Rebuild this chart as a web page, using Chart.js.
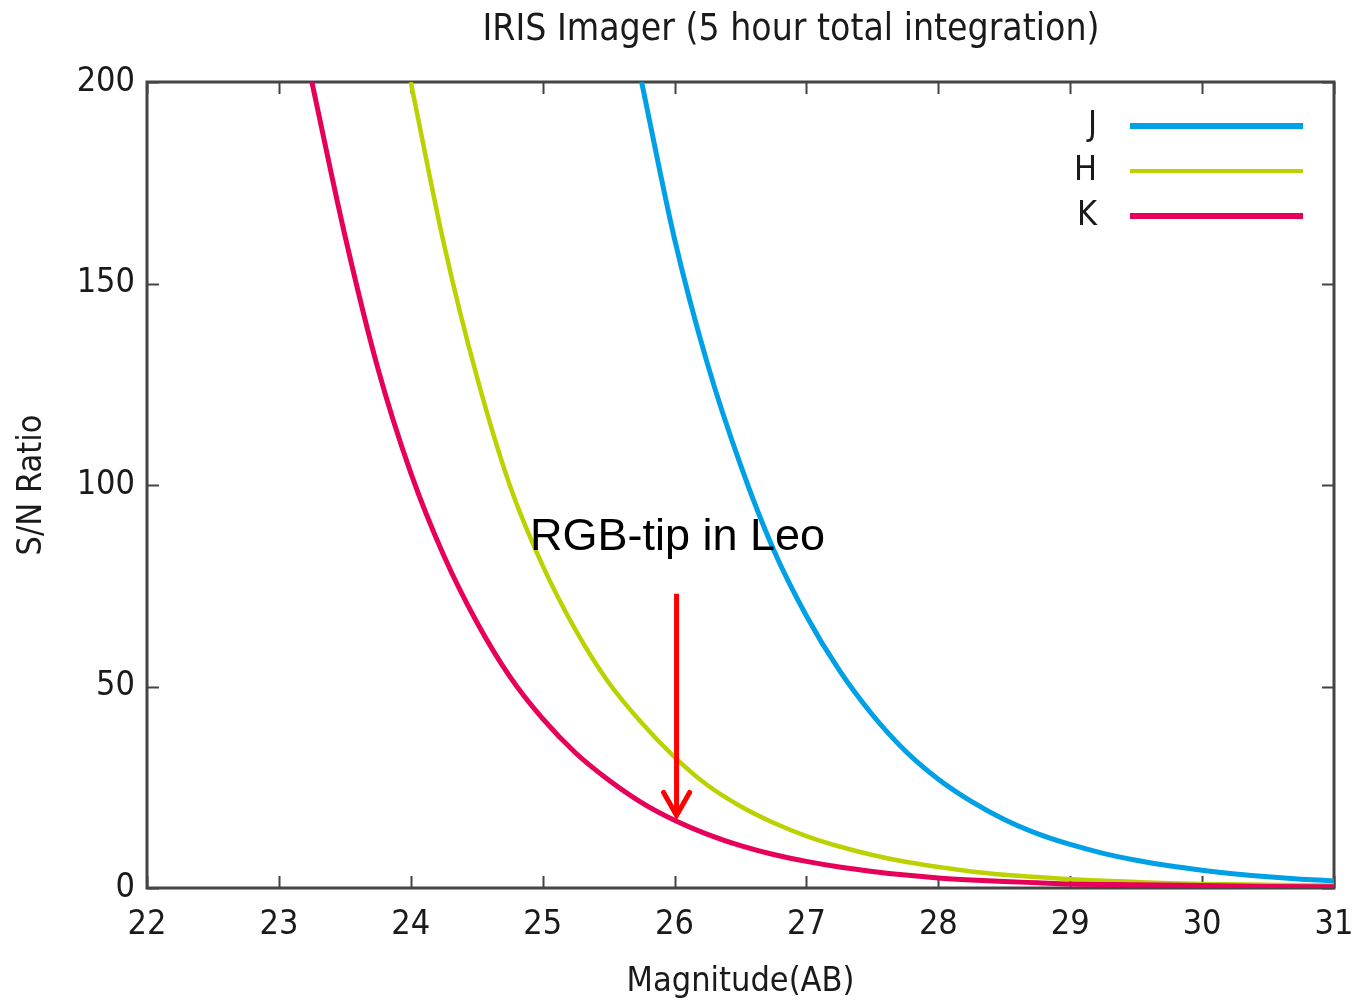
<!DOCTYPE html>
<html>
<head>
<meta charset="utf-8">
<script src="https://cdn.jsdelivr.net/npm/chart.js@4.4.1/dist/chart.umd.min.js"></script>
<style>
  html, body { margin: 0; padding: 0; background: #ffffff; }
  #wrap { width: 1353px; height: 1003px; position: relative; }
</style>
</head>
<body>
<div id="wrap"><canvas id="c" width="1353" height="1003"></canvas></div>
<script>
// ---- Data ----
const chartTitle = "IRIS Imager (5 hour total integration)";
const xTitle = "Magnitude(AB)";
const yTitle = "S/N Ratio";
const seriesNames = ["J", "H", "K"];
const seriesColors = ["#00a0e6", "#bcd200", "#e6005a"];

const magJ = [25.75, 26.0, 26.25, 26.5, 26.75, 27.0, 27.25, 27.5, 27.75, 28.0, 28.25, 28.5, 28.75, 29.0, 29.25, 29.5, 29.75, 30.0, 30.25, 30.5, 30.75, 31.0];
const snJ  = [200, 161, 130, 105, 84, 67.5, 54, 43, 34, 27, 21.5, 17, 13.5, 10.8, 8.6, 6.9, 5.5, 4.4, 3.5, 2.8, 2.2, 1.75];

const magH = [24.0, 24.25, 24.5, 24.75, 25.0, 25.25, 25.5, 25.75, 26.0, 26.25, 26.5, 26.75, 27.0, 27.25, 27.5, 27.75, 28.0, 28.25, 28.5, 28.75, 29.0, 29.25, 29.5, 29.75, 30.0, 30.5, 31.0];
const snH  = [200, 160, 127, 100, 80, 64, 51, 41, 32.5, 25.5, 20.3, 16.2, 12.9, 10.3, 8.2, 6.5, 5.2, 4.1, 3.3, 2.7, 2.2, 1.8, 1.5, 1.2, 1.0, 0.8, 0.6];

const magK = [23.25, 23.5, 23.75, 24.0, 24.25, 24.5, 24.75, 25.0, 25.25, 25.5, 25.75, 26.0, 26.25, 26.5, 26.75, 27.0, 27.25, 27.5, 27.75, 28.0, 28.25, 28.5, 28.75, 29.0, 29.5, 30.0, 30.5, 31.0];
const snK  = [200, 162, 129, 103, 82.5, 66, 52.5, 42, 33.5, 26.8, 21.2, 16.8, 13.3, 10.5, 8.3, 6.6, 5.2, 4.1, 3.2, 2.5, 2.0, 1.6, 1.3, 1.0, 0.8, 0.6, 0.4, 0.3];

const xTicks = [22, 23, 24, 25, 26, 27, 28, 29, 30, 31];
const yTicks = [0, 50, 100, 150, 200];

const annotationText = "RGB-tip in Leo";
const arrowMag = 26;
const arrowFrom = 73;   // S/N at tail of arrow
const arrowTo = 18;     // S/N at arrow tip
const annotationTextSN = 87;

// ---- Build datasets ----
function pts(xs, ys) { return xs.map((x, i) => ({ x: x, y: ys[i] })); }
const allX = [magJ, magH, magK];
const allY = [snJ, snH, snK];
const widths = [5, 4.5, 5];

const datasets = seriesNames.map((n, i) => ({
  label: n,
  data: pts(allX[i], allY[i]),
  borderColor: seriesColors[i],
  backgroundColor: seriesColors[i],
  borderWidth: widths[i],
  pointRadius: 0,
  cubicInterpolationMode: 'monotone',
  fill: false
}));
datasets.reverse();

const fontFamily = "'Liberation Sans Narrow', 'DejaVu Sans Condensed', 'Liberation Sans', sans-serif";
const tickFont = { family: fontFamily, size: 34 };
const textColor = "#1a1a1a";
const frameColor = "#444444";

const framePlugin = {
  id: 'frame',
  beforeDatasetsDraw(chart) {
    const { ctx, chartArea: a, scales } = chart;
    ctx.save();
    ctx.strokeStyle = frameColor;
    ctx.lineWidth = 2;
    const tl = 12;
    ctx.beginPath();
    xTicks.forEach(v => {
      const px = Math.round(scales.x.getPixelForValue(v)) + 0.5;
      ctx.moveTo(px, a.bottom); ctx.lineTo(px, a.bottom - tl);
      ctx.moveTo(px, a.top); ctx.lineTo(px, a.top + tl);
    });
    yTicks.forEach(v => {
      const py = Math.round(scales.y.getPixelForValue(v)) + 0.5;
      ctx.moveTo(a.left, py); ctx.lineTo(a.left + tl, py);
      ctx.moveTo(a.right, py); ctx.lineTo(a.right - tl, py);
    });
    ctx.stroke();
    ctx.lineWidth = 3;
    ctx.strokeRect(a.left, a.top, a.right - a.left, a.bottom - a.top);
    ctx.restore();
  },
  afterDatasetsDraw(chart) {
    const { ctx, chartArea: a, scales } = chart;
    ctx.save();
    // Title
    ctx.fillStyle = textColor;
    ctx.font = "37px " + fontFamily;
    ctx.textAlign = 'center';
    ctx.textBaseline = 'middle';
    ctx.fillText(chartTitle, 791, 30);

    // Legend (text right-aligned, line sample to the right)
    ctx.font = "34px " + fontFamily;
    ctx.textAlign = 'right';
    [0, 1, 2].forEach(i => {
      const y = a.top + 44 + i * 45;
      ctx.fillStyle = textColor;
      ctx.fillText(seriesNames[i], a.right - 237, y);
      ctx.strokeStyle = seriesColors[i];
      ctx.lineWidth = i === 1 ? 4 : 6;
      ctx.beginPath();
      ctx.moveTo(a.right - 204, y);
      ctx.lineTo(a.right - 31, y);
      ctx.stroke();
    });

    // Annotation arrow
    const ax = scales.x.getPixelForValue(arrowMag) + 2;
    const y0 = scales.y.getPixelForValue(arrowFrom);
    const y1 = scales.y.getPixelForValue(arrowTo);
    ctx.strokeStyle = '#ff0000';
    ctx.lineWidth = 5;
    ctx.lineCap = 'butt';
    ctx.beginPath();
    ctx.moveTo(ax, y0); ctx.lineTo(ax, y1 - 3);
    ctx.stroke();
    ctx.lineCap = 'round';
    ctx.lineJoin = 'miter';
    ctx.beginPath();
    ctx.moveTo(ax - 13, y1 - 23);
    ctx.lineTo(ax, y1);
    ctx.lineTo(ax + 13, y1 - 23);
    ctx.stroke();

    // Annotation text
    ctx.fillStyle = '#000000';
    ctx.font = "45px 'Liberation Sans', Arial, sans-serif";
    ctx.textAlign = 'center';
    ctx.textBaseline = 'middle';
    ctx.fillText(annotationText, ax + 1, scales.y.getPixelForValue(annotationTextSN));
    ctx.restore();
  }
};

new Chart(document.getElementById('c'), {
  type: 'line',
  data: { datasets: datasets },
  plugins: [framePlugin],
  options: {
    responsive: false,
    animation: false,
    layout: { padding: { left: 0, right: 19, top: 82, bottom: 0 } },
    plugins: {
      legend: { display: false },
      title: { display: false },
      tooltip: { enabled: false }
    },
    scales: {
      x: {
        type: 'linear',
        min: 22, max: 31,
        afterFit(scale) { scale.height = 115; scale.paddingLeft = 0; scale.paddingRight = 0; },
        afterBuildTicks(scale) { scale.ticks = xTicks.map(v => ({ value: v })); },
        grid: { display: false, drawTicks: false },
        border: { display: false },
        ticks: { font: tickFont, color: textColor, padding: 17, maxRotation: 0, autoSkip: false },
        title: { display: true, text: xTitle, font: tickFont, color: textColor, padding: { top: 0, bottom: 0 } }
      },
      y: {
        type: 'linear',
        min: 0, max: 200,
        afterFit(scale) { scale.width = 147; scale.paddingTop = 0; scale.paddingBottom = 0; },
        afterBuildTicks(scale) { scale.ticks = yTicks.map(v => ({ value: v })); },
        grid: { display: false, drawTicks: false },
        border: { display: false },
        ticks: { font: tickFont, color: textColor, padding: 12, autoSkip: false },
        title: { display: true, text: yTitle, font: tickFont, color: textColor, padding: { top: 12, bottom: 0 } }
      }
    }
  }
});
</script>
</body>
</html>
